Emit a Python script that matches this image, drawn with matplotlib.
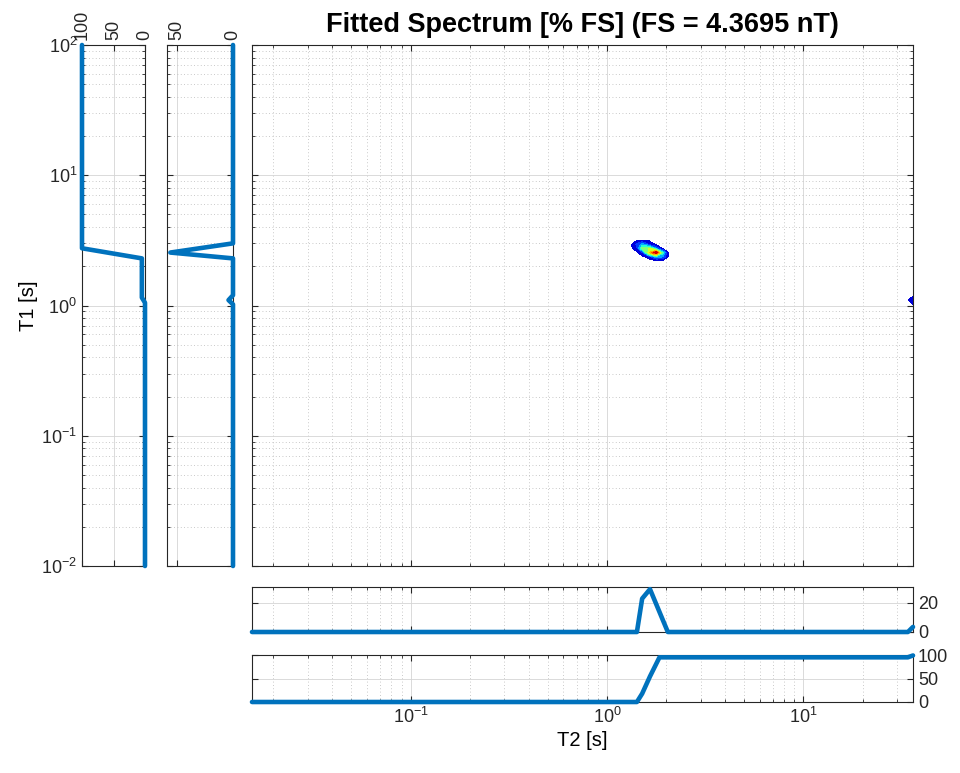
#!/usr/bin/env python3
"""Fitted T1-T2 spectrum with marginal and cumulative side panels."""

import matplotlib
matplotlib.use("Agg")
import matplotlib.pyplot as plt
from matplotlib.ticker import LogLocator, NullFormatter

plt.rcParams.update({
    "font.family": ["Liberation Sans", "DejaVu Sans"],
    "font.size": 13,
    "mathtext.default": "regular",
    "axes.linewidth": 0.8,
    "axes.edgecolor": "#262626",
    "xtick.color": "#262626",
    "ytick.color": "#262626",
    "xtick.direction": "in",
    "ytick.direction": "in",
    "xtick.major.size": 4,
    "ytick.major.size": 4,
    "xtick.minor.size": 2,
    "ytick.minor.size": 2,
})

LINE = "#0072BD"
GRID = "#d4d4d4"
GRID_MINOR = "#b8b8b8"

T2_LIM = (0.0156, 36.1)
T1_LIM = (0.01, 100)

# T1 marginal (middle side panel), nodes from top to bottom
t1_marg_nodes = [100, 3.0, 2.55, 2.3, 1.2, 1.1, 1.02, 0.01]
t1_marg_vals = [0, 0, 56, 0, 0, 4, 0, 0]
# T1 cumulative (left side panel)
t1_cum_nodes = [100, 2.75, 2.3, 1.15, 1.05, 0.01]
t1_cum_vals = [100, 100, 5, 5, 0, 0]

# T2 marginal and cumulative (bottom panels)
t2_marg_nodes = [0.0156, 1.42, 1.51, 1.655, 2.04, 34, 36.1]
t2_marg_vals = [0, 0, 23, 29.5, 0, 0, 3.5]
t2_cum_nodes = [0.0156, 1.42, 1.51, 1.655, 1.85, 34, 36.1]
t2_cum_vals = [0, 0, 18, 55, 96, 96, 100]

# 2D spectrum: main peak patch
blob_t2 = [1.32, 1.42, 1.51, 1.64, 1.78, 1.92, 2.06]
blob_t1 = [3.2, 2.95, 2.75, 2.55, 2.35, 2.2]
blob_vals = [
    [0, 0, 0, 0, 0, 0, 0],
    [0, 3, 5, 2, 0, 0, 0],
    [0, 2, 9, 10, 4, 0, 0],
    [0, 0, 2, 12, 18, 7, 0],
    [0, 0, 0, 1, 5, 4, 0],
    [0, 0, 0, 0, 0, 0, 0],
]
# small patch at the long-T2 edge
edge_t2 = [33.5, 36.1]
edge_t1 = [1.2, 1.1, 1.0]
edge_vals = [[0, 0], [0, 2.2], [0, 0]]

levels = [0.5, 2.4, 4.3, 6.2, 8.1, 10.0, 11.9, 13.8, 15.7, 17.6]


def style_grid(ax):
    ax.grid(True, which="major", color=GRID, lw=0.6, ls="-")
    ax.grid(True, which="minor", color=GRID_MINOR, lw=0.6, ls=(0, (1, 3)))
    ax.set_axisbelow(True)
    ax.tick_params(which="both", top=True, right=True)


def log_axis(axis):
    axis.set_major_locator(LogLocator(base=10, numticks=10))
    axis.set_minor_locator(LogLocator(base=10, subs=range(2, 10), numticks=20))
    axis.set_minor_formatter(NullFormatter())


fig = plt.figure(figsize=(9.6, 7.73), dpi=100)

W, H = 960, 773


def px_axes(x0, y0, x1, y1):
    return fig.add_axes([x0 / W, 1 - y1 / H, (x1 - x0) / W, (y1 - y0) / H])


ax_main = px_axes(252, 45, 913, 566)
ax_cum = px_axes(82, 45, 145, 566)
ax_marg = px_axes(167, 45, 233, 566)
ax_t2m = px_axes(252, 587, 913, 632)
ax_t2c = px_axes(252, 655, 913, 702)

# main spectrum
ax_main.set_xscale("log")
ax_main.set_yscale("log")
ax_main.contourf(blob_t2, blob_t1, blob_vals, levels=levels, cmap="jet", vmin=0, vmax=18)
ax_main.contourf(edge_t2, edge_t1, edge_vals, levels=levels, cmap="jet", vmin=0, vmax=18)
ax_main.set_xlim(*T2_LIM)
ax_main.set_ylim(*T1_LIM)
log_axis(ax_main.xaxis)
log_axis(ax_main.yaxis)
style_grid(ax_main)
ax_main.tick_params(labelbottom=False, labelleft=False)
ax_main.set_title("Fitted Spectrum [% FS] (FS = 4.3695 nT)", fontsize=19.5,
                  fontweight="bold", pad=9)

# T1 side panels
for ax, nodes, vals, xlim, ticks in [
    (ax_cum, t1_cum_nodes, t1_cum_vals, (100, 0), [100, 50, 0]),
    (ax_marg, t1_marg_nodes, t1_marg_vals, (59, 0), [50, 0]),
]:
    ax.plot(vals, nodes, color=LINE, lw=3.3, solid_capstyle="round",
            solid_joinstyle="round", clip_on=False, zorder=5)
    ax.set_yscale("log")
    ax.set_ylim(*T1_LIM)
    ax.set_xlim(*xlim)
    ax.set_xticks(ticks)
    log_axis(ax.yaxis)
    style_grid(ax)
    ax.tick_params(axis="x", labeltop=True, labelbottom=False, labelrotation=90)

ax_marg.tick_params(labelleft=False)
ax_cum.set_ylabel("T1 [s]", fontsize=14.5, labelpad=2)

# T2 bottom panels
for ax, nodes, vals, ylim, ticks in [
    (ax_t2m, t2_marg_nodes, t2_marg_vals, (0, 31), [0, 20]),
    (ax_t2c, t2_cum_nodes, t2_cum_vals, (0, 101), [0, 50, 100]),
]:
    ax.plot(nodes, vals, color=LINE, lw=3.3, solid_capstyle="round",
            solid_joinstyle="round", clip_on=False, zorder=5)
    ax.set_xscale("log")
    ax.set_xlim(*T2_LIM)
    ax.set_ylim(*ylim)
    ax.set_yticks(ticks)
    log_axis(ax.xaxis)
    style_grid(ax)
    ax.tick_params(axis="y", labelleft=False, labelright=True)

ax_t2m.tick_params(labelbottom=False)
ax_t2c.set_xlabel("T2 [s]", fontsize=14.5, labelpad=3)

fig.savefig("out.png", dpi=100, facecolor="white")
